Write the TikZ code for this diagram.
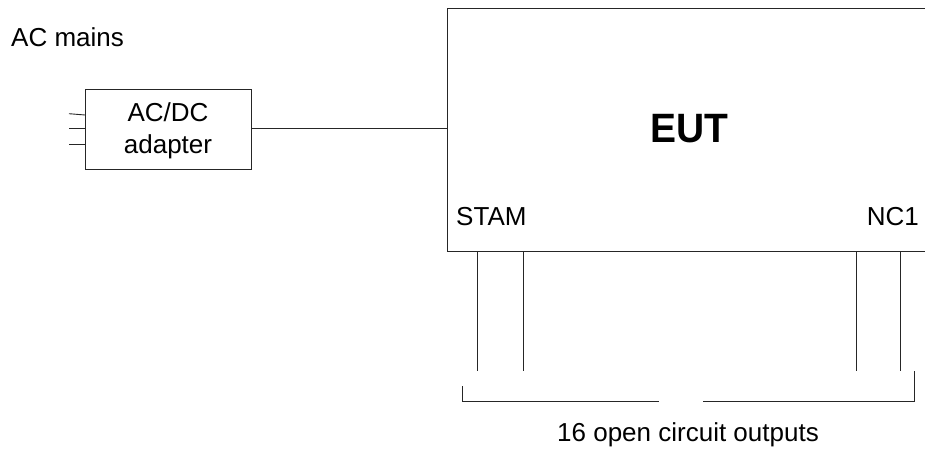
\documentclass[tikz,border=0pt]{standalone}
\usepackage{fontspec}
\setmainfont{Liberation Sans}
\newfontfamily\eutfont[FakeStretch=0.95]{Liberation Sans}
\begin{document}
\begin{tikzpicture}[x=1pt,y=-1pt,
  wire/.style={draw=black!85,line width=0.9pt},
  lbl/.style={inner sep=0pt,font=\fontsize{26}{30}\selectfont}]
\useasboundingbox (0,0) rectangle (925,452);
\fill[white] (0,0) rectangle (925,452);
% EUT box (extends past right edge)
\draw[wire] (930,8) -- (447,8) -- (447,251) -- (930,251);
\node[inner sep=0pt,anchor=base,font=\eutfont\fontsize{41}{46}\selectfont\bfseries] (eut) at (689,142.5) {EUT};
\coordinate (eutin) at (447,128);
% adapter
\node[wire,minimum width=166pt,minimum height=80pt,inner sep=0pt,anchor=north west] (ad) at (85,89) {};
\node[lbl,anchor=base] (ad1) at (168,121.5) {AC/DC};
\node[lbl,anchor=base] (ad2) at (168,153) {adapter};
\draw[wire] (ad.east |- eutin) -- (eutin);
\coordinate (p1) at (69,113.7); \coordinate (p2) at (69,128.3); \coordinate (p3) at (69,144);
\draw[wire] (p1) -- (85,115);
\draw[wire] (p2) -- (p2 -| ad.west);
\draw[wire] (p3) -- (p3 -| ad.west);
\node[lbl,anchor=base west] (acm) at (11,46.5) {AC mains};
\node[lbl,anchor=base west] (stam) at (456,225) {STAM};
\node[lbl,anchor=base east] (nc1) at (919,225) {NC1};
% outputs
\coordinate (o1t) at (477,251); \coordinate (o1b) at (477,371);
\coordinate (o2t) at (523,251); \coordinate (o2b) at (523,371);
\coordinate (o3t) at (856,251); \coordinate (o3b) at (856,371);
\coordinate (o4t) at (900,251); \coordinate (o4b) at (900,371);
\draw[wire] (o1t) -- (o1b);
\draw[wire] (o2t) -- (o2b);
\draw[wire] (o3t) -- (o3b);
\draw[wire] (o4t) -- (o4b);
% bracket
\coordinate (bl) at (462,386); \coordinate (bll) at (462,401.5);
\coordinate (gl) at (659,401.5); \coordinate (gr) at (703,401.5);
\coordinate (brr) at (914,401.5); \coordinate (br) at (914,371);
\draw[wire] (bl) -- (bll) -- (gl);
\draw[wire] (gr) -- (brr) -- (br);
\node[lbl,anchor=base] (out) at (688,441.5) {16 open circuit outputs};
\end{tikzpicture}
\end{document}
